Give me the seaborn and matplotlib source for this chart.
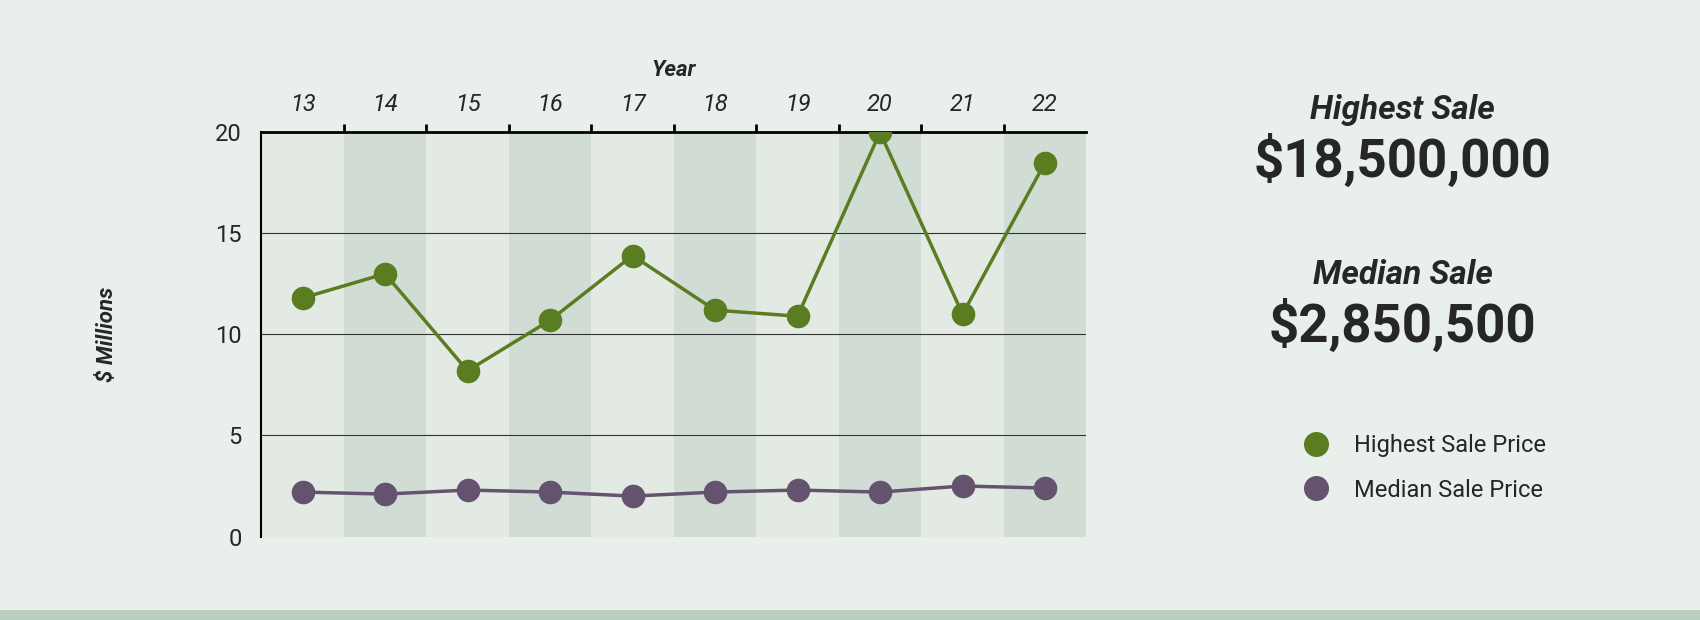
import matplotlib
matplotlib.use("Agg")
import matplotlib.pyplot as plt
import seaborn as sns
import pandas as pd
from matplotlib.lines import Line2D

years = ["13", "14", "15", "16", "17", "18", "19", "20", "21", "22"]
highest = [11.8, 13.0, 8.2, 10.7, 13.9, 11.2, 10.9, 20.0, 11.0, 18.5]
median = [2.2, 2.1, 2.3, 2.2, 2.0, 2.2, 2.3, 2.2, 2.5, 2.4]

GREEN = "#5a7d22"
PURPLE = "#64526f"
BG = "#e9efea"

sns.set_style("white")
plt.rcParams['font.family'] = ['Roboto', 'DejaVu Sans']

df = pd.DataFrame({"x": range(len(years)), "highest": highest, "median": median})

fig = plt.figure(figsize=(17, 6.2), dpi=100, facecolor=BG)
ax = fig.add_axes([0.1537, 0.1346, 0.4853, 0.6521])
ax.set_facecolor(BG)

for i in range(len(years)):
    ax.axvspan(i - 0.5, i + 0.5, color="#d1ddd4" if i % 2 else "#e2eae3", lw=0, zorder=0)
for y in [5, 10, 15]:
    ax.axhline(y, color="#333333", lw=0.8, zorder=1)

sns.lineplot(data=df, x="x", y="highest", ax=ax, color=GREEN, lw=2.5,
             marker="o", markersize=17, markeredgewidth=0, zorder=3)
sns.lineplot(data=df, x="x", y="median", ax=ax, color=PURPLE, lw=2.5,
             marker="o", markersize=17, markeredgewidth=0, zorder=3)

ax.set_xlim(-0.5, len(years) - 0.5)
ax.set_ylim(0, 20)
ax.set_yticks([0, 5, 10, 15, 20])
ax.tick_params(axis="y", labelsize=17, length=0, pad=14)
ax.xaxis.tick_top()
ax.xaxis.set_label_position("top")
ax.set_xticks(range(len(years)))
ax.set_xticklabels(years, fontsize=17, style="italic")
ax.set_xticks([i + 0.5 for i in range(len(years) - 1)], minor=True)
ax.tick_params(axis="x", which="major", length=0, pad=12)
ax.tick_params(axis="x", which="minor", top=True, bottom=False, length=6, width=2, color="black")
ax.set_xlabel("Year", fontsize=16, fontweight="bold", style="italic", labelpad=12)
ax.set_ylabel("$ Millions", fontsize=16, fontweight="bold", style="italic", labelpad=70)

for s in ["right", "bottom"]:
    ax.spines[s].set_visible(False)
ax.spines["top"].set_linewidth(2)
ax.spines["left"].set_linewidth(1.5)
ax.spines["top"].set_color("black")
ax.spines["left"].set_color("black")

fig.text(0.825, 0.822, "Highest Sale", ha="center", va="center", fontsize=24, fontweight="bold", style="italic")
fig.text(0.825, 0.741, "$18,500,000", ha="center", va="center", fontsize=38, fontweight="bold")
fig.text(0.825, 0.556, "Median Sale", ha="center", va="center", fontsize=24, fontweight="bold", style="italic")
fig.text(0.825, 0.475, "$2,850,500", ha="center", va="center", fontsize=38, fontweight="bold")

handles = [Line2D([], [], ls="", marker="o", markersize=17, color=GREEN),
           Line2D([], [], ls="", marker="o", markersize=17, color=PURPLE)]
fig.legend(handles, ["Highest Sale Price", "Median Sale Price"], loc="center left",
           bbox_to_anchor=(0.748, 0.245), frameon=False, fontsize=17, handletextpad=0.6,
           labelspacing=0.9)

fig.add_artist(plt.Rectangle((0, 0), 1, 0.016, transform=fig.transFigure, color="#b9cfbd", lw=0))

fig.savefig("out.png", dpi=100, facecolor=BG)
